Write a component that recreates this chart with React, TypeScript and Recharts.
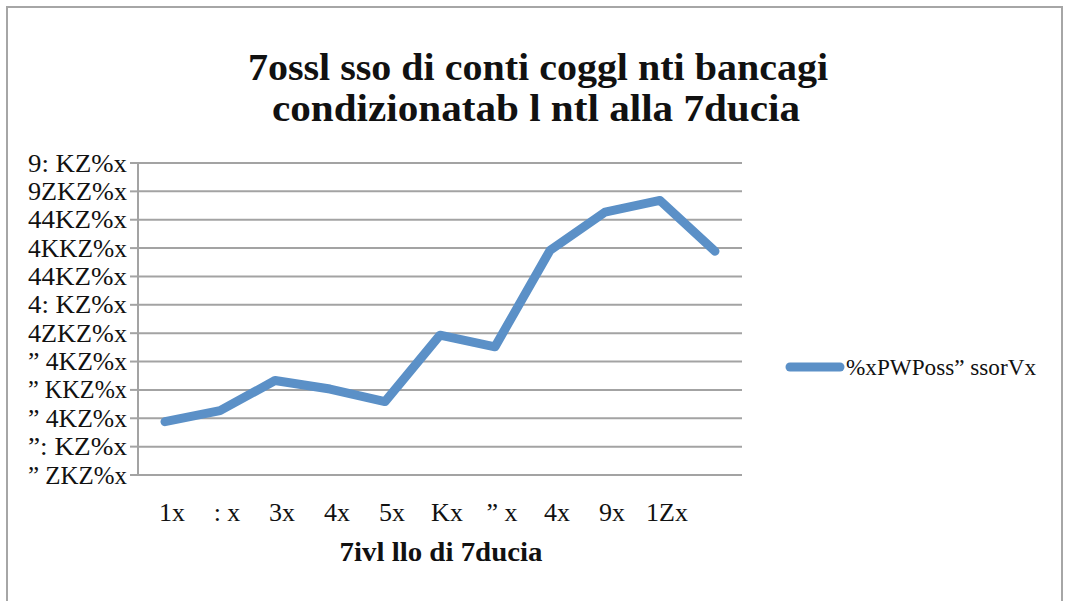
import React from 'react';
import { LineChart, Line, XAxis, YAxis, CartesianGrid, Legend } from 'recharts';

const categoryLabels = ['1x', ': x', '3x', '4x', '5x', 'Kx', '” x', '4x', '9x', '1Zx', ''];
const seriesValues = [1.88, 2.27, 3.33, 3.03, 2.59, 4.93, 4.52, 7.92, 9.27, 9.68, 7.89];
const yTickLabels = ['” ZKZ%x', '”: KZ%x', '” 4KZ%x', '” KKZ%x', '” 4KZ%x', '4ZKZ%x', '4: KZ%x', '44KZ%x', '4KKZ%x', '44KZ%x', '9ZKZ%x', '9: KZ%x'];
const yTicks = yTickLabels.map((_, i) => i);
const seriesName = '%xPWPoss” ssorVx';
const titleLines = ['7ossl sso di conti coggl nti bancagi', 'condizionatab l ntl  alla 7ducia'];
const xAxisTitle = '7ivl llo di 7ducia';

const data = seriesValues.map((v, i) => ({ idx: i, value: v }));

const LINE_COLOR = '#5b90c7';
const GRID_COLOR = '#a3a3a3';
const FONT = '"Liberation Serif", "DejaVu Serif", serif';

const YTick = (props: any) => {
  const { x, y, payload } = props;
  const label = yTickLabels[payload.value] ?? '';
  return (
    <text x={x} y={y} textAnchor="end" dominantBaseline="central" fontFamily={FONT} fontSize={26} fill="#111" textLength={99} lengthAdjust="spacingAndGlyphs">
      {label}
    </text>
  );
};

const XTick = (props: any) => {
  const { x, y, payload } = props;
  const label = categoryLabels[payload.value] ?? '';
  if (!label) return null;
  return (
    <text x={x + 7} y={y + 37} textAnchor="middle" dominantBaseline="central" fontFamily={FONT} fontSize={26} fill="#111">
      {label}
    </text>
  );
};

const LegendContent = () => (
  <svg width={280} height={34}>
    <line x1={6} y1={17} x2={56} y2={17} stroke={LINE_COLOR} strokeWidth={9} strokeLinecap="round" />
    <text x={62} y={17} dominantBaseline="central" fontFamily={FONT} fontSize={24} fill="#111" textLength={190} lengthAdjust="spacingAndGlyphs">
      {seriesName}
    </text>
  </svg>
);

export default function App() {
  return (
    <div style={{ position: 'absolute', left: 0, top: 0, width: 1066, height: 601, background: '#fff', overflow: 'hidden' }}>
      <svg width={1066} height={601} style={{ position: 'absolute', left: 0, top: 0 }}>
        <rect x={7} y={7} width={1055} height={620} fill="#fff" stroke="#a6a6a6" strokeWidth={2} />
        <text x={538} y={80} textAnchor="middle" fontFamily={FONT} fontWeight="bold" fontSize={38} fill="#111" textLength={580} lengthAdjust="spacingAndGlyphs">
          {titleLines[0]}
        </text>
        <text x={536} y={121} textAnchor="middle" fontFamily={FONT} fontWeight="bold" fontSize={38} fill="#111" textLength={528} lengthAdjust="spacingAndGlyphs">
          {titleLines[1]}
        </text>
        <text x={441} y={561} textAnchor="middle" fontFamily={FONT} fontWeight="bold" fontSize={27} fill="#111" textLength={203} lengthAdjust="spacingAndGlyphs">
          {xAxisTitle}
        </text>
      </svg>
      <div style={{ position: 'absolute', left: 0, top: 0 }}>
        <LineChart width={1066} height={601} data={data} margin={{ top: 163, right: 44, bottom: 86, left: 0 }}>
          <CartesianGrid vertical={false} stroke={GRID_COLOR} strokeWidth={2} />
          <XAxis
            dataKey="idx"
            type="category"
            height={40}
            padding={{ left: 27, right: 27 }}
            axisLine={false}
            tickLine={false}
            tickSize={0}
            tickMargin={0}
            interval={0}
            tick={<XTick />}
          />
          <YAxis
            type="number"
            domain={[0, 11]}
            ticks={yTicks}
            width={138}
            interval={0}
            axisLine={{ stroke: GRID_COLOR, strokeWidth: 2 }}
            tickLine={{ stroke: GRID_COLOR, strokeWidth: 2 }}
            tickSize={8}
            tickMargin={3}
            tick={<YTick />}
          />
          <Legend
            layout="vertical"
            align="right"
            verticalAlign="middle"
            content={<LegendContent />}
            wrapperStyle={{ width: 280, height: 34, left: 784, top: 350 }}
          />
          <Line
            type="linear"
            dataKey="value"
            name={seriesName}
            stroke={LINE_COLOR}
            strokeWidth={9}
            strokeLinecap="round"
            strokeLinejoin="round"
            dot={false}
            activeDot={false}
            isAnimationActive={false}
          />
        </LineChart>
      </div>
    </div>
  );
}
